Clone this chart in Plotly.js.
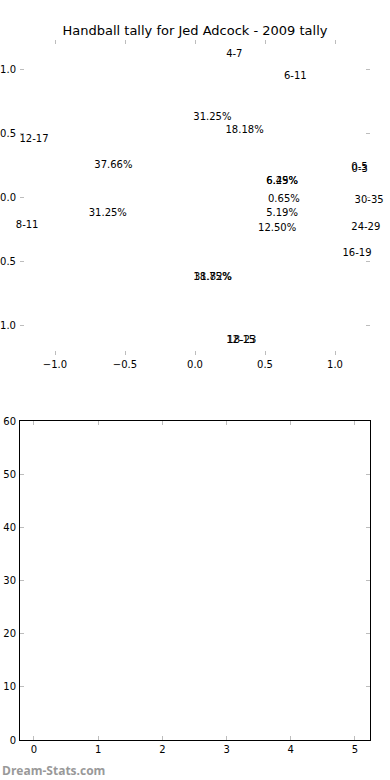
<!DOCTYPE html>
<html><head><meta charset="utf-8">
<script src="https://cdn.plot.ly/plotly-3.0.1.min.js"></script>
<style>html,body{margin:0;padding:0;background:#fff;overflow:hidden}</style>
</head><body><div id="chart" style="width:390px;height:780px"></div>
<script>
const chartTitle = "Handball tally for Jed Adcock - 2009 tally";
const groupsA = ["0-3", "4-7", "8-11", "12-15", "16-19"];
const countsA = [1, 5, 5, 3, 2];
const groupsB = ["0-5", "6-11", "12-17", "18-23", "24-29", "30-35"];
const countsB = [10, 28, 58, 49, 8, 1];
const pieTicks = [-1.0, -0.5, 0.0, 0.5, 1.0];
const barCategories = [0, 1, 2, 3, 4, 5];
const barValues = [];
const barTicks = [0, 10, 20, 30, 40, 50, 60];
const watermark = "Dream-Stats.com";

const labelDist = 1.14, pctDist = 0.635;

function pieText(labels, counts) {
  const total = counts.reduce((a, b) => a + b, 0);
  let start = 0;
  const o = {lx: [], ly: [], lt: [], lpos: [], px: [], py: [], pt: []};
  counts.forEach((c, i) => {
    const frac = c / total;
    const mid = (start + frac / 2) * 2 * Math.PI;
    start += frac;
    const cx = Math.cos(mid), sy = Math.sin(mid);
    o.lx.push(labelDist * cx); o.ly.push(labelDist * sy); o.lt.push(labels[i]);
    o.lpos.push(cx >= 0 ? 'middle right' : 'middle left');
    o.px.push(pctDist * cx); o.py.push(pctDist * sy); o.pt.push((frac * 100).toFixed(2) + '%');
  });
  return o;
}
const A = pieText(groupsA, countsA);
const B = pieText(groupsB, countsB);
const tf = {family: 'DejaVu Sans', size: 10, color: '#000'};

function labelTrace(p) {
  return {type: 'scatter', mode: 'text', x: p.lx, y: p.ly, text: p.lt, textposition: p.lpos,
    textfont: tf, hoverinfo: 'skip', showlegend: false, cliponaxis: false, xaxis: 'x', yaxis: 'y'};
}
function pctTrace(p) {
  return {type: 'scatter', mode: 'text', x: p.px, y: p.py, text: p.pt, textposition: 'middle center',
    textfont: tf, hoverinfo: 'skip', showlegend: false, cliponaxis: false, xaxis: 'x', yaxis: 'y'};
}
const traces = [labelTrace(A), pctTrace(A), labelTrace(B), pctTrace(B),
  {type: 'bar', x: barCategories, y: barValues, xaxis: 'x2', yaxis: 'y2', showlegend: false}];

const W = 390, H = 780;
const tickFont = {family: 'DejaVu Sans', size: 10, color: '#000'};
const common = {ticks: 'inside', ticklen: 4, tickwidth: 1, tickcolor: '#bdbdbd', showgrid: false,
  zeroline: false, tickfont: tickFont, fixedrange: true, mirror: 'ticks', showline: true};
const layout = {
  width: W, height: H, margin: {l: 0, r: 0, t: 0, b: 0},
  paper_bgcolor: '#fff', plot_bgcolor: 'rgba(0,0,0,0)',
  title: {text: chartTitle, x: 0.5, xanchor: 'center', y: 1 - 30 / H, yanchor: 'middle',
    font: {family: 'DejaVu Sans', size: 13, color: '#000'}},
  xaxis: Object.assign({}, common, {domain: [20 / W, 370 / W], range: [-1.25, 1.25], anchor: 'y',
    tickvals: pieTicks, tickformat: '.1f', linecolor: 'rgba(0,0,0,0)'}),
  yaxis: Object.assign({}, common, {domain: [1 - 355 / H, 1 - 40 / H], range: [-1.23, 1.23], anchor: 'x',
    tickvals: pieTicks, tickformat: '.1f', linecolor: 'rgba(0,0,0,0)', ticklabelstandoff: 1}),
  xaxis2: Object.assign({}, common, {domain: [20 / W, 370 / W], range: [-0.218, 5.234], anchor: 'y2',
    tickvals: barCategories, linecolor: '#000', linewidth: 1}),
  yaxis2: Object.assign({}, common, {domain: [1 - 740 / H, 1 - 421 / H], range: [0, 60], anchor: 'x2',
    tickvals: barTicks, linecolor: '#000', linewidth: 1, ticklabelstandoff: 1}),
  annotations: [{text: watermark, xref: 'paper', yref: 'paper', x: 0, xanchor: 'left', y: 1 - 770 / H,
    yanchor: 'middle', showarrow: false, font: {family: 'Open Sans', size: 12, color: '#999', weight: 'bold'}}]
};
Plotly.newPlot('chart', traces, layout, {displayModeBar: false, staticPlot: true});
</script></body></html>
